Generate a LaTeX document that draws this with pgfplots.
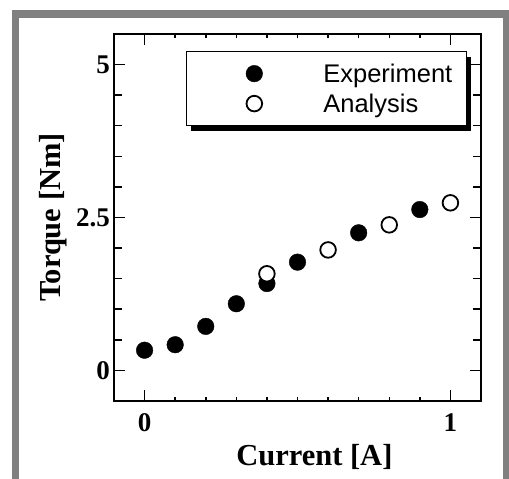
\documentclass[border=0pt]{standalone}
\usepackage{fontspec}
\setmainfont{Liberation Serif}
\newfontfamily\legendfont{Liberation Sans}
\usepackage{pgfplots}
\pgfplotsset{compat=1.18}
\usetikzlibrary{shadows}
\definecolor{framegray}{RGB}{128,128,128}
\begin{document}
\begin{tikzpicture}[x=1pt,y=1pt]
\useasboundingbox (0,0) rectangle (509,479);
\fill[white] (0,0) rectangle (509,479);
\fill[framegray] (12,0) rectangle (19,469);
\fill[framegray] (12,461) rectangle (509,469);
\fill[framegray] (503,0) rectangle (509,469);
\begin{axis}[
  at={(114pt,78pt)}, anchor=south west,
  scale only axis, width=367pt, height=367pt,
  xmin=-0.1, xmax=1.1, ymin=-0.5, ymax=5.5,
  xtick={0,1}, minor x tick num=9,
  ytick={0,2.5,5}, yticklabels={0,2.5,5}, minor y tick num=4,
  xticklabels={0,1},
  tick align=inside,
  major tick length=11pt, minor tick length=8pt,
  minor x tick style={/pgfplots/minor tick length=4pt},
  every tick/.style={black, line width=1.5pt},
  axis line style={line width=1.8pt},
  /pgf/number format/assume math mode=true,
  ticklabel style={font=\bfseries\fontsize{27}{27}\selectfont},
  yticklabel style={anchor=east, inner sep=0pt, xshift=-4pt},
  xticklabel style={anchor=north, inner sep=0pt, yshift=-12pt},
  xlabel={Current [A]}, ylabel={Torque [Nm]},
  label style={font=\bfseries\fontsize{30.5}{30.5}\selectfont},
  xlabel style={at={(axis description cs:0.546,-0.177)}, anchor=base},
  ylabel style={at={(axis description cs:-0.147,0.5)}, anchor=base},
  clip=false,
  legend style={at={(rel axis cs:0.195,0.954)}, anchor=north west,
    draw=black, line width=1.5pt, fill=white,
    drop shadow={shadow xshift=5pt, shadow yshift=-5pt, fill=black, opacity=1},
    font=\legendfont\fontsize{25.5}{25.5}\selectfont,
    inner xsep=14pt, inner ysep=12pt, column sep=15pt, row sep=10pt,
    nodes={inner sep=0pt}},
  legend cell align=left,
  legend image code/.code={%
    \pgfpathmoveto{\pgfqpoint{0pt}{-8pt}}\pgfpathlineto{\pgfqpoint{108pt}{8pt}}\pgfusepath{}%
    \draw[mark repeat=2,mark phase=2,#1] plot coordinates {(0pt,0pt) (54pt,0pt) (108pt,0pt)};},
]
\addplot[only marks, mark=*, mark size=8.3pt, mark options={fill=black, draw=black, line width=0.4pt}]
  coordinates {(0,0.33) (0.1,0.42) (0.2,0.72) (0.3,1.09) (0.4,1.42) (0.5,1.77) (0.7,2.25) (0.9,2.63)};
\addlegendentry{Experiment}
\addplot[only marks, mark=*, mark size=7.8pt, mark options={fill=white, draw=black, line width=1.8pt}]
  coordinates {(0.4,1.58) (0.6,1.97) (0.8,2.38) (1.0,2.74)};
\addlegendentry{Analysis}
\end{axis}
\end{tikzpicture}
\end{document}
